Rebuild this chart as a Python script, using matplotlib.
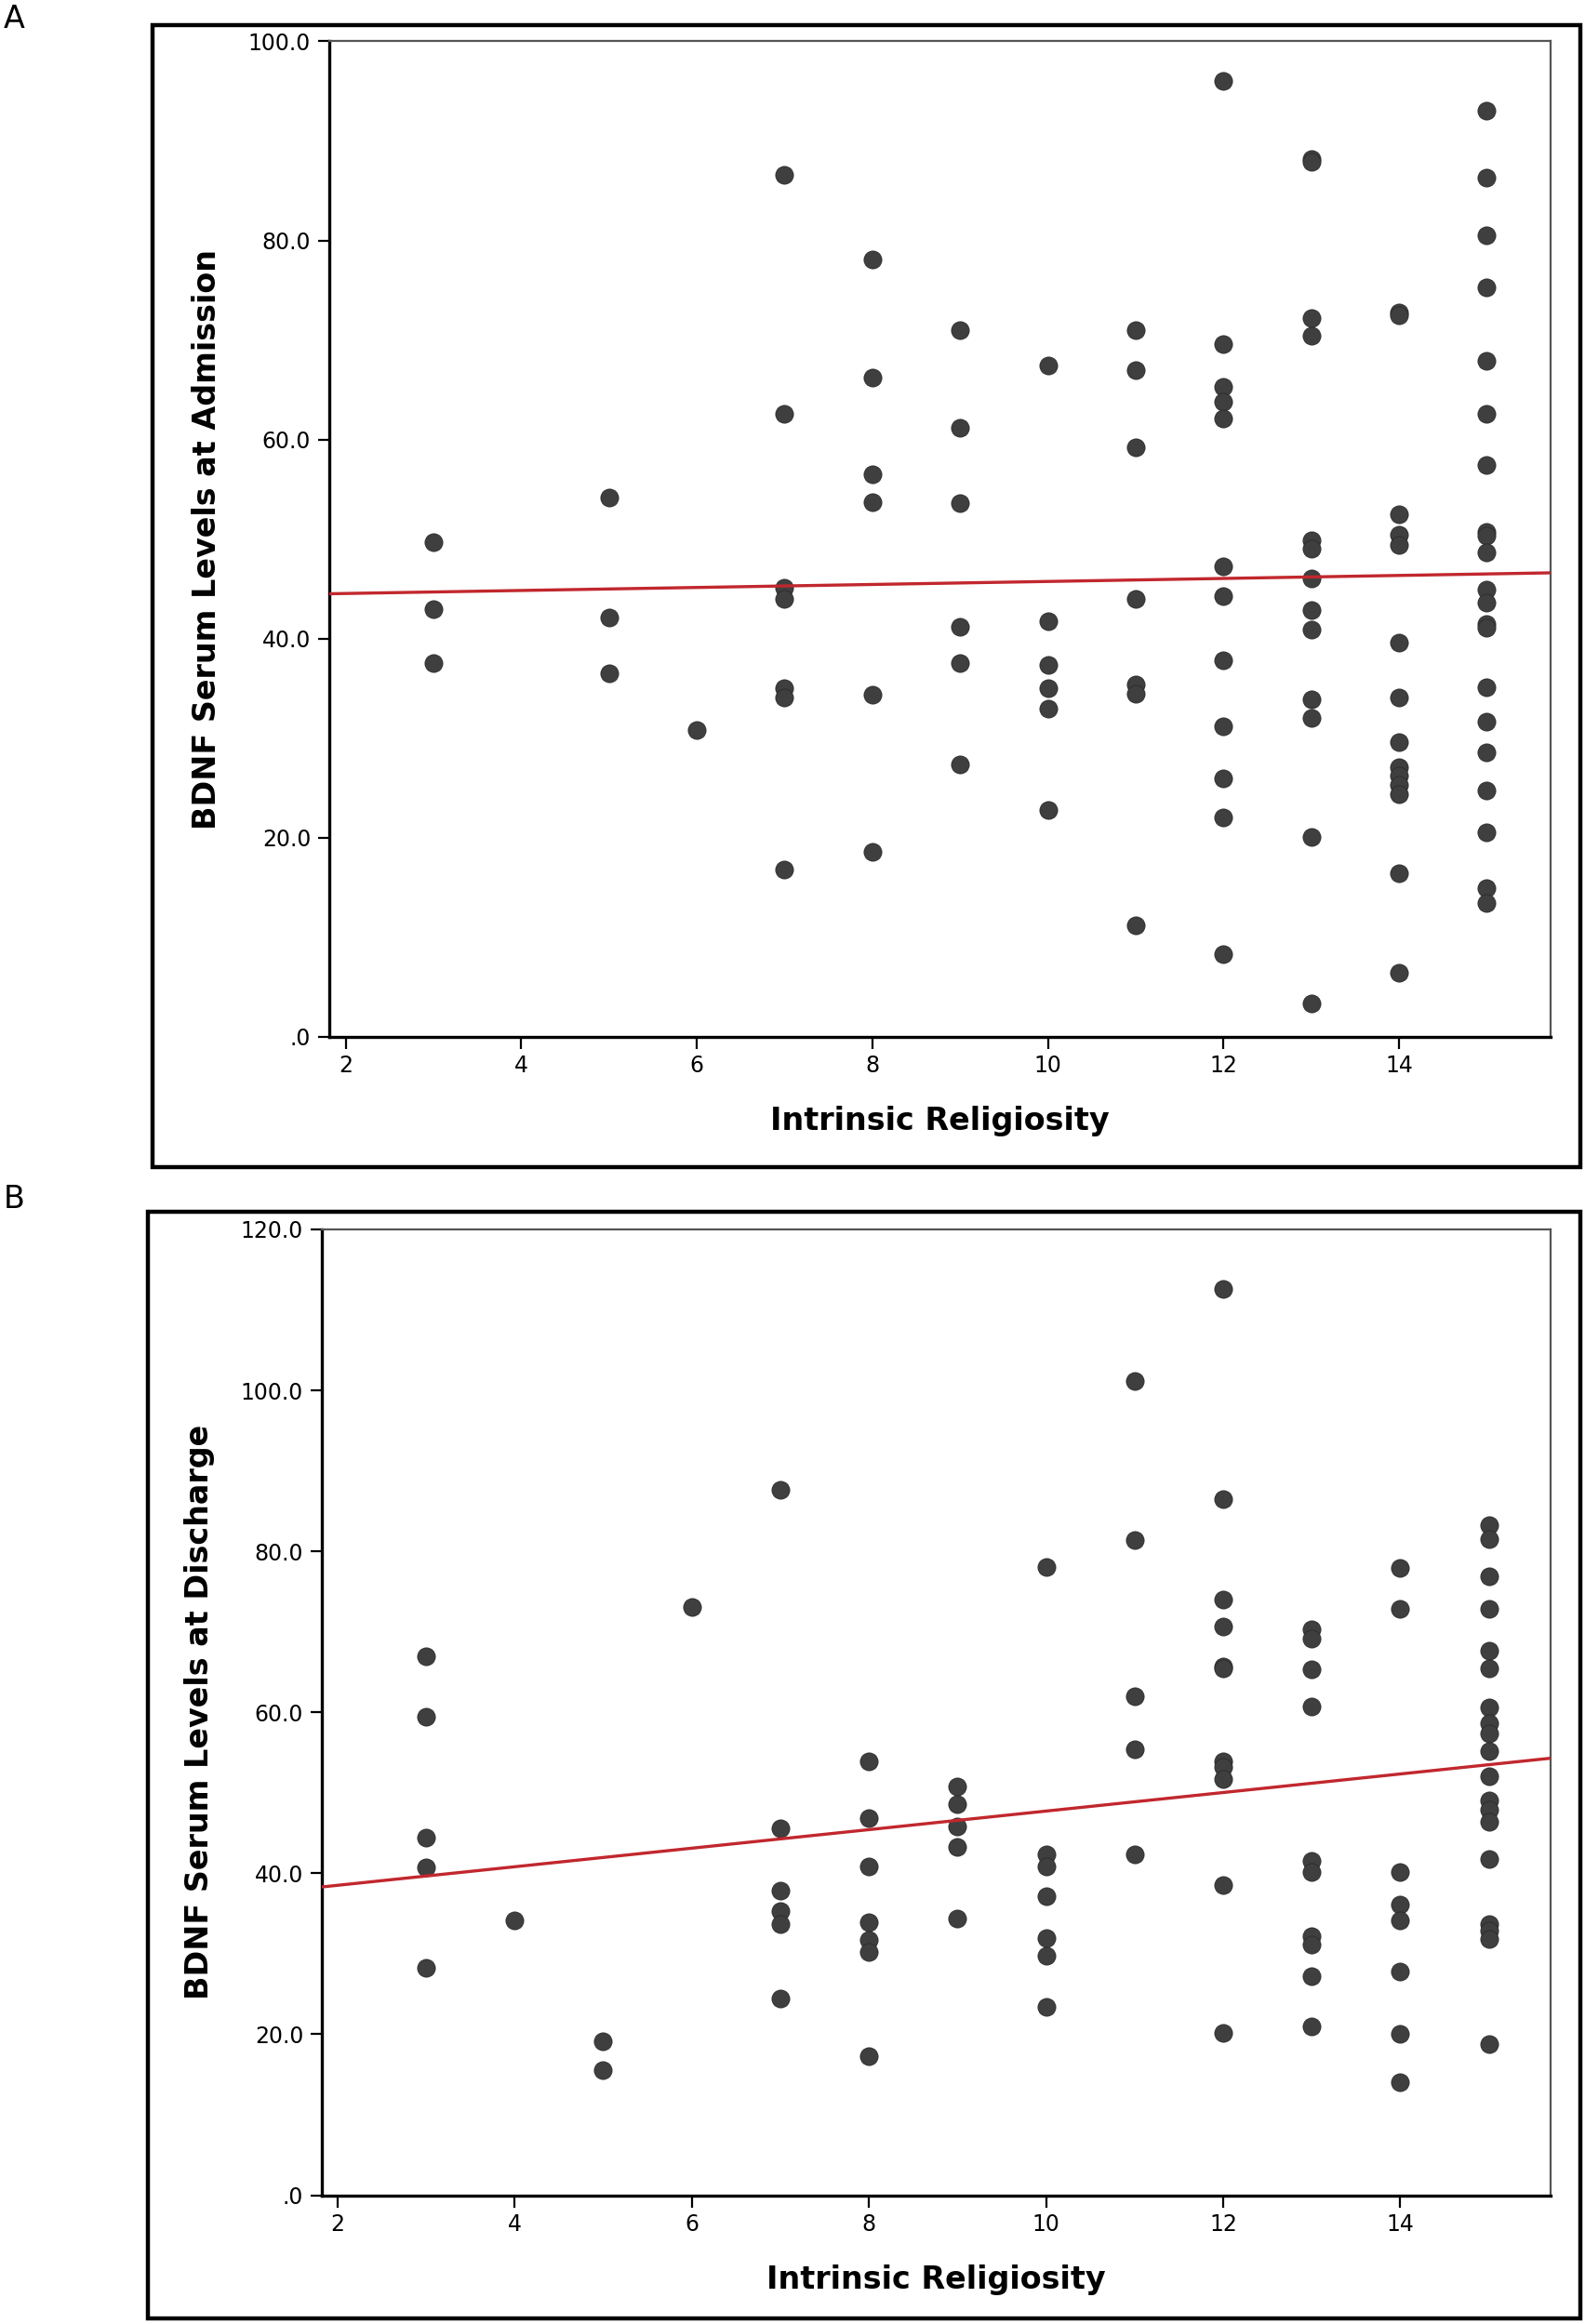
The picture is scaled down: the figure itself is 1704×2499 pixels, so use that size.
import numpy as np
import matplotlib
matplotlib.use("Agg")
import matplotlib.pyplot as plt
from matplotlib.patches import Rectangle

# panel A: BDNF at admission, grouped by intrinsic religiosity score
adm_x = [3]*3 + [5]*3 + [6] + [7]*7 + [8]*6 + [9]*6 + [10]*6 + [11]*7 + [12]*12 + [13]*13 + [14]*14 + [15]*21
adm_y = [49.7, 43.0, 37.5,
         54.2, 42.1, 36.5,
         30.8,
         86.6, 62.6, 45.1, 44.0, 35.0, 34.1, 16.8,
         78.1, 66.2, 56.5, 53.7, 34.4, 18.6,
         71.0, 61.2, 53.6, 41.2, 37.5, 27.4,
         67.4, 41.7, 37.4, 35.0, 33.0, 22.8,
         71.0, 67.0, 59.2, 44.0, 35.4, 34.5, 11.2,
         96.0, 69.6, 65.3, 63.8, 62.1, 47.3, 44.3, 37.8, 31.2, 26.0, 22.0, 8.3,
         88.2, 87.9, 72.2, 70.4, 49.9, 49.0, 46.0, 42.9, 40.9, 33.9, 32.0, 20.1, 3.3,
         72.8, 72.5, 52.5, 50.4, 49.4, 39.6, 34.1, 29.6, 27.1, 26.2, 25.3, 24.4, 16.4, 6.4,
         93.0, 86.3, 80.5, 75.3, 67.9, 62.6, 57.4, 50.7, 50.3, 48.7, 44.9, 43.6, 41.5, 41.1,
         35.1, 31.7, 28.6, 24.7, 20.5, 14.9, 13.4]

# panel B: BDNF at discharge
dis_x = [3]*5 + [4] + [5]*2 + [6] + [7]*6 + [8]*7 + [9]*5 + [10]*7 + [11]*5 + [12]*11 + [13]*10 + [14]*8 + [15]*19
dis_y = [67.0, 59.5, 44.4, 40.7, 28.2,
         34.2,
         19.1, 15.5,
         73.1,
         87.6, 45.6, 37.9, 35.3, 33.7, 24.5,
         53.9, 46.9, 40.9, 33.9, 31.7, 30.2, 17.3,
         50.8, 48.6, 45.8, 43.3, 34.4,
         78.0, 42.3, 40.9, 37.2, 32.0, 29.8, 23.4,
         101.2, 81.4, 62.0, 55.4, 42.3,
         112.6, 86.5, 74.0, 70.7, 65.7, 65.5, 53.9, 53.2, 51.7, 38.5, 20.2,
         70.3, 69.2, 65.3, 60.7, 41.6, 40.1, 32.2, 31.1, 27.2, 21.0,
         77.9, 72.9, 40.1, 36.1, 34.1, 27.8, 20.1, 14.0,
         83.2, 81.5, 76.9, 72.9, 67.6, 65.5, 60.6, 58.7, 57.4, 55.2, 52.1, 49.0, 47.9, 46.4,
         41.8, 33.7, 32.9, 31.8, 18.8]

# fit lines (intercept, slope) as drawn in the figure
fit_adm = (44.23, 0.151)
fit_dis = (36.2, 1.153)

x_ticks = [2, 4, 6, 8, 10, 12, 14]
adm_ticks = [0, 20, 40, 60, 80, 100]
dis_ticks = [0, 20, 40, 60, 80, 100, 120]


def spss_label(v):
    return ".0" if v == 0 else f"{v:.1f}"


def draw_panel(ax, xs, ys, fit, yticks, ylabel, xlim, ymax):
    ax.scatter(xs, ys, s=190, color="#3f3f3f", edgecolors="#2a2a2a", linewidths=0.6, zorder=3)
    xx = np.array(xlim)
    ax.plot(xx, fit[0] + fit[1] * xx, color="#c1272d", lw=2.4, zorder=4)
    ax.set_xlim(*xlim)
    ax.set_ylim(0, ymax)
    ax.set_xticks(x_ticks)
    ax.set_xticklabels([str(t) for t in x_ticks])
    ax.set_yticks(yticks)
    ax.set_yticklabels([spss_label(t) for t in yticks])
    ax.tick_params(direction="out", length=9, width=1.6, labelsize=17, pad=5, colors="black")
    for side in ["left", "bottom"]:
        ax.spines[side].set_linewidth(2.4)
        ax.spines[side].set_color("black")
    for side in ["top", "right"]:
        ax.spines[side].set_linewidth(1.6)
        ax.spines[side].set_color("#555555")
    ax.set_xlabel("Intrinsic Religiosity", fontsize=24, fontweight="bold", labelpad=22)
    ax.set_ylabel(ylabel, fontsize=24, fontweight="bold", labelpad=20)


plt.rcParams["font.family"] = ["DejaVu Sans"]
fig = plt.figure(figsize=(17.04, 24.99), dpi=100)

axA = fig.add_axes([0.2075, 0.5539, 0.771, 0.4283])
draw_panel(axA, adm_x, adm_y, fit_adm, adm_ticks, "BDNF Serum Levels at Admission", (1.81, 15.73), 100)

axB = fig.add_axes([0.2028, 0.0554, 0.7757, 0.4156])
draw_panel(axB, dis_x, dis_y, fit_dis, dis_ticks, "BDNF Serum Levels at Discharge", (1.82, 15.70), 120)

# outer frames around each panel
fig.patches.append(Rectangle((0.0963, 0.4978), 0.9009, 0.4914, transform=fig.transFigure,
                             fill=False, lw=3.2, ec="black"))
fig.patches.append(Rectangle((0.0935, 0.0025), 0.9037, 0.4762, transform=fig.transFigure,
                             fill=False, lw=3.2, ec="black"))

fig.text(0.002, 0.9985, "A", fontsize=24, va="top", ha="left")
fig.text(0.002, 0.4905, "B", fontsize=24, va="top", ha="left")

fig.savefig("out.png", dpi=100, facecolor="white")
